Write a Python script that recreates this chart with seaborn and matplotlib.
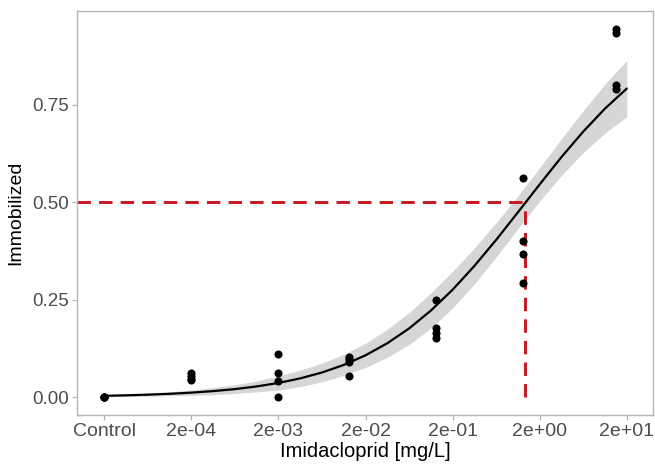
"""
Dose-response of Imidacloprid: immobilized fraction with fitted curve,
95% band and EC50 guide lines.

Output: out.png
"""

import matplotlib
matplotlib.use("Agg")

import matplotlib.pyplot as plt
import numpy as np
import pandas as pd
import seaborn as sns


# observed replicates; Control is drawn at the 2e-05 slot of the log axis
CONTROL_POS = 2e-05
DOSES = [CONTROL_POS, 0.0002, 0.002, 0.013, 0.13, 1.3, 15.0]
IMMOBILIZED = [
    [0.0, 0.0, 0.0, 0.0],
    [0.062, 0.055, 0.048, 0.045],
    [0.111, 0.062, 0.042, 0.0],
    [0.104, 0.097, 0.091, 0.055],
    [0.250, 0.177, 0.164, 0.151],
    [0.562, 0.400, 0.367, 0.292],
    [0.945, 0.935, 0.800, 0.790],
]

CURVE_DOSE = [2 * 10.0 ** k for k in np.arange(-5.0, 1.01, 0.25)]
CURVE_FIT = [
    0.0038, 0.0051, 0.0068, 0.0090, 0.0120, 0.0159, 0.0210, 0.0279,
    0.0368, 0.0485, 0.0636, 0.0830, 0.1077, 0.1386, 0.1765, 0.2223,
    0.2759, 0.3369, 0.4037, 0.4745, 0.5461, 0.6161, 0.6814, 0.7404,
    0.7917,
]
CURVE_HALFWIDTH = [
    0.002, 0.003, 0.004, 0.005, 0.007, 0.009, 0.011, 0.014,
    0.018, 0.021, 0.024, 0.027, 0.031, 0.036, 0.041, 0.045,
    0.047, 0.046, 0.044, 0.042, 0.043, 0.047, 0.054, 0.063,
    0.072,
]

EC50 = 1.37
EC50_LEVEL = 0.5

X_TICKS = [2e-05, 2e-04, 2e-03, 2e-02, 2e-01, 2e+00, 2e+01]
X_TICK_LABELS = ["Control", "2e-04", "2e-03", "2e-02", "2e-01", "2e+00", "2e+01"]
Y_TICKS = [0.0, 0.25, 0.5, 0.75]

RIBBON_COLOR = "#d6d6d6"
LINE_RED = "#c8161d"
BORDER_GREY = "#b5b5b5"


def setup_style() -> None:
    sns.set_theme(style="white")
    plt.rcParams.update(
        {
            "font.family": ["Liberation Sans", "DejaVu Sans"],
            "axes.edgecolor": BORDER_GREY,
            "axes.linewidth": 1.0,
            "xtick.color": BORDER_GREY,
            "ytick.color": BORDER_GREY,
            "xtick.labelcolor": "#4d4d4d",
            "ytick.labelcolor": "#4d4d4d",
            "xtick.major.size": 3.5,
            "ytick.major.size": 3.5,
            "xtick.major.width": 0.9,
            "ytick.major.width": 0.9,
            "xtick.bottom": True,
            "ytick.left": True,
        }
    )


def main() -> None:
    setup_style()

    points = pd.DataFrame(
        [(d, v) for d, vals in zip(DOSES, IMMOBILIZED) for v in vals],
        columns=["dose", "immobilized"],
    )
    curve = pd.DataFrame({"dose": CURVE_DOSE, "fit": CURVE_FIT, "hw": CURVE_HALFWIDTH})
    curve["lower"] = curve["fit"] - curve["hw"]
    curve["upper"] = curve["fit"] + curve["hw"]

    fig = plt.figure(figsize=(6.55, 4.66), dpi=100)
    ax = fig.add_axes([0.1176, 0.1094, 0.8794, 0.867])
    ax.set_xscale("log")

    ax.fill_between(curve["dose"], curve["lower"], curve["upper"],
                    color=RIBBON_COLOR, linewidth=0, zorder=1)

    xmin, xmax = 9.75e-06, 40.0
    ax.plot([xmin, EC50], [EC50_LEVEL, EC50_LEVEL], color=LINE_RED,
            linewidth=2.1, dashes=(4.6, 2.8), zorder=2)
    ax.plot([EC50, EC50], [0.0, EC50_LEVEL], color=LINE_RED,
            linewidth=2.1, dashes=(4.6, 2.8), zorder=2)

    sns.lineplot(data=curve, x="dose", y="fit", ax=ax, color="black",
                 linewidth=1.6, zorder=3)
    sns.scatterplot(data=points, x="dose", y="immobilized", ax=ax,
                    color="black", s=34, linewidth=0, zorder=4)

    ax.set_xlim(xmin, xmax)
    ax.set_ylim(-0.0454, 0.9905)
    ax.set_xticks(X_TICKS)
    ax.set_xticklabels(X_TICK_LABELS)
    ax.xaxis.set_minor_locator(matplotlib.ticker.NullLocator())
    ax.set_yticks(Y_TICKS)
    ax.set_yticklabels([f"{t:.2f}" for t in Y_TICKS])
    ax.tick_params(axis="y", labelsize=13.5, pad=2)
    ax.tick_params(axis="x", labelsize=14, pad=2)

    ax.set_xlabel("Imidacloprid [mg/L]", fontsize=14.5, color="black", labelpad=2)
    ax.set_ylabel("Immobilized", fontsize=14, color="black", labelpad=6)

    for spine in ax.spines.values():
        spine.set_visible(True)
        spine.set_color(BORDER_GREY)

    fig.savefig("out.png", dpi=100)
    plt.close(fig)


if __name__ == "__main__":
    main()
